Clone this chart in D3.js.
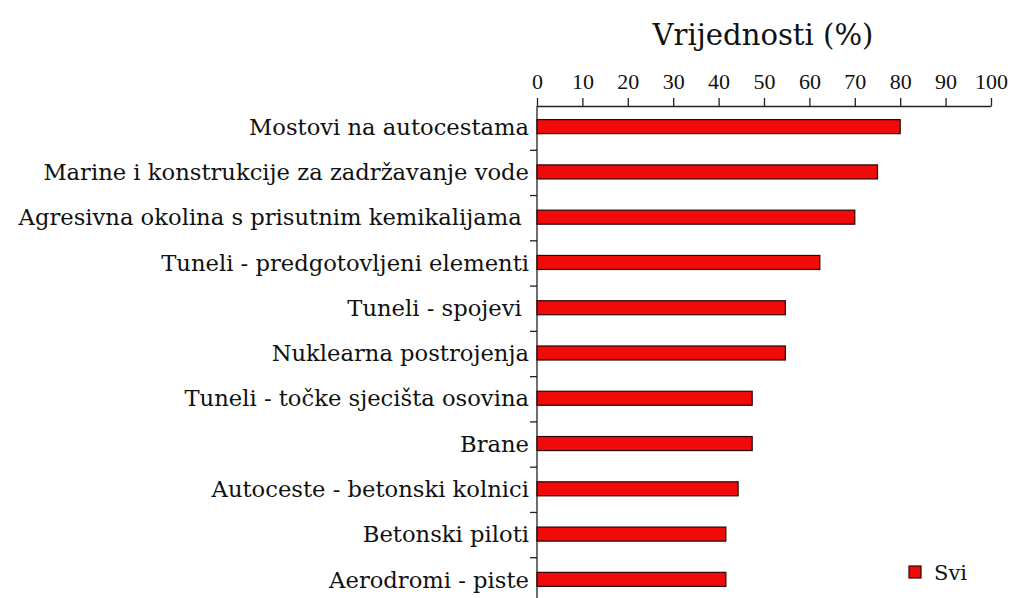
<!DOCTYPE html>
<html>
<head>
<meta charset="utf-8">
<script src="https://cdn.jsdelivr.net/npm/d3@7"></script>
<style>
  body { margin: 0; background: #fff; }
  text { font-family: "DejaVu Serif", "Liberation Serif", serif; fill: #111; }
  .lbl { white-space: pre; }
</style>
</head>
<body>
<div id="chart"></div>
<script>
// categories (top to bottom) and their values
var categories = [
  "Mostovi na autocestama",
  "Marine i konstrukcije za zadržavanje vode",
  "Agresivna okolina s prisutnim kemikalijama ",
  "Tuneli - predgotovljeni elementi",
  "Tuneli - spojevi ",
  "Nuklearna postrojenja",
  "Tuneli - točke sjecišta osovina",
  "Brane",
  "Autoceste - betonski kolnici",
  "Betonski piloti",
  "Aerodromi - piste"
];
var values = [80, 75, 70, 62.3, 54.7, 54.7, 47.4, 47.4, 44.3, 41.6, 41.6];
var xTicks = [0, 10, 20, 30, 40, 50, 60, 70, 80, 90, 100];
var seriesName = "Svi";
var axisTitle = "Vrijednosti (%)";

var svgWidth = 1016, svgHeight = 598;
var margin = { top: 106, left: 537, right: 25 };

var svg = d3.select("#chart").append("svg")
  .attr("width", svgWidth)
  .attr("height", svgHeight);

var x = d3.scaleLinear().domain([0, 100]).range([margin.left, 991]);
var y = d3.scaleBand().domain(categories).range([104, 602]).paddingInner(0.69).paddingOuter(0.345);

// top axis
var topAxis = svg.append("g")
  .attr("transform", `translate(0, ${margin.top})`)
  .call(d3.axisTop(x).tickValues(xTicks).tickSize(8).tickSizeOuter(0));
topAxis.select(".domain").attr("stroke", "#222").attr("stroke-width", 1.3);
topAxis.selectAll(".tick line").attr("stroke", "#222").attr("stroke-width", 1.3);
topAxis.selectAll(".tick text")
  .attr("y", -17)
  .style("font-size", "22px")
  .style("font-family", "Liberation Serif, serif")
  .attr("fill", "#111");

// axis title, sized to match the original width
var title = svg.append("text")
  .attr("x", 763)
  .attr("y", 45)
  .attr("text-anchor", "middle")
  .style("font-size", "26px")
  .text(axisTitle);
var tw = title.node().getComputedTextLength();
title.style("font-size", (26 * 221 / tw) + "px");

// left axis: vertical line with ticks between categories
svg.append("line")
  .attr("x1", margin.left).attr("x2", margin.left)
  .attr("y1", margin.top).attr("y2", svgHeight)
  .attr("stroke", "#222").attr("stroke-width", 1.3);
svg.selectAll(".ytick")
  .data(categories.slice(1))
  .enter().append("line")
  .attr("class", "ytick")
  .attr("x1", margin.left - 7).attr("x2", margin.left)
  .attr("y1", (d) => y(d) - y.step() * y.paddingInner() / 2 + 1)
  .attr("y2", (d) => y(d) - y.step() * y.paddingInner() / 2 + 1)
  .attr("stroke", "#222").attr("stroke-width", 1.3);

// category labels
var labels = svg.selectAll(".lbl")
  .data(categories)
  .enter().append("text")
  .attr("class", "lbl")
  .attr("x", margin.left - 8)
  .attr("y", (d) => y(d) + y.bandwidth() / 2)
  .attr("dy", "0.36em")
  .attr("text-anchor", "end")
  .style("font-size", "20px")
  .text((d) => d);
// fit label size so the second label is as wide as in the original
var lw = labels.filter((d, i) => i === 1).node().getComputedTextLength();
labels.style("font-size", (20 * 486 / lw) + "px");

// bars
svg.selectAll(".bar")
  .data(values)
  .enter().append("rect")
  .attr("class", "bar")
  .attr("x", x(0))
  .attr("y", (d, i) => y(categories[i]))
  .attr("width", (d) => x(d) - x(0))
  .attr("height", y.bandwidth())
  .attr("fill", "#f00a0a")
  .attr("stroke", "#2a0505")
  .attr("stroke-width", 1.2);

// legend
svg.append("rect")
  .attr("x", 909).attr("y", 566)
  .attr("width", 12).attr("height", 12)
  .attr("fill", "#f00a0a").attr("stroke", "#2a0505").attr("stroke-width", 1.2);
svg.append("text")
  .attr("x", 934).attr("y", 580)
  .style("font-size", "21px")
  .text(seriesName);
</script>
</body>
</html>
